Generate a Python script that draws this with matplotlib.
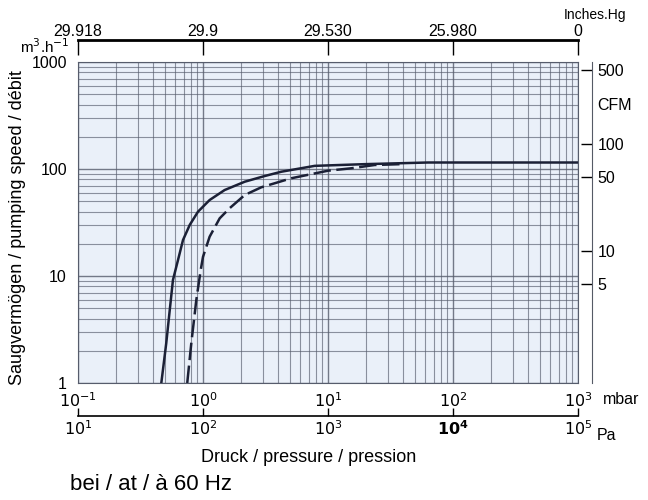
import numpy as np
import matplotlib.pyplot as plt
from matplotlib.ticker import FixedLocator, NullFormatter, NullLocator

plt.rcParams['font.family'] = ['Liberation Sans', 'DejaVu Sans']

# pumping speed curves, pressure in mbar, speed in m3/h
solid_p = [0.464, 0.508, 0.542, 0.575, 0.631, 0.692, 0.783, 0.912, 1.13, 1.49,
           2.16, 3.12, 4.23, 7.83, 19.7, 63, 1000]
solid_s = [1.0, 2.35, 4.81, 9.18, 14.1, 21.7, 30.0, 39.9, 51.3, 63.6,
           76.1, 86.0, 94.3, 107, 111, 115, 115]
dash_p = [0.748, 0.806, 0.884, 0.959, 1.0, 1.13, 1.36, 1.63, 2.16, 2.93,
          5.08, 10, 15.4, 23.6, 38.4]
dash_s = [1.0, 2.35, 5.97, 11.4, 15.1, 23.3, 34.6, 42.9, 57.2, 67.5,
          81.9, 96.4, 101.6, 109, 111]

# axis labelling
mbar_ticks = [0.1, 1, 10, 100, 1000]
mbar_labels = ['$10^{-1}$', '$10^{0}$', '$10^{1}$', '$10^{2}$', '$10^{3}$']
pa_ticks = [10, 100, 1000, 10000, 100000]
pa_labels = ['$10^{1}$', '$10^{2}$', '$10^{3}$', r'$\mathbf{10^{4}}$', '$10^{5}$']
inhg_labels = ['29.918', '29.9', '29.530', '25.980', '0']
cfm_ticks = [5, 10, 50, 100, 500]
speed_ticks = [1, 10, 100, 1000]

fs = 11.5

fig = plt.figure(figsize=(6.48, 5.0), dpi=100)
ax = fig.add_axes([78/648, 1 - 383/500, 500/648, 321/500])
ax.set_facecolor('#eaf0f9')
ax.set_xscale('log')
ax.set_yscale('log')
ax.set_xlim(0.1, 1000)
ax.set_ylim(1, 1000)

# log paper grid
grid_col = '#565c6c'
ax.xaxis.set_minor_locator(FixedLocator([m * 10.0**e for e in range(-1, 3) for m in range(2, 10)]))
ax.yaxis.set_minor_locator(FixedLocator([m * 10.0**e for e in range(0, 3) for m in range(2, 10)]))
ax.xaxis.set_minor_formatter(NullFormatter())
ax.yaxis.set_minor_formatter(NullFormatter())
ax.grid(which='major', color=grid_col, lw=1.0, alpha=0.8)
ax.grid(which='minor', color=grid_col, lw=0.8, alpha=0.65)
for s in ax.spines.values():
    s.set_color(grid_col)
    s.set_linewidth(0.8)

ax.plot(solid_p, solid_s, color='#1b2036', lw=1.8, solid_joinstyle='round')
ax.plot(dash_p, dash_s, color='#1b2036', lw=1.8, ls=(0, (7, 2.2)))

ax.set_xticks(mbar_ticks)
ax.set_xticklabels(mbar_labels, fontsize=fs)
ax.set_yticks(speed_ticks)
ax.set_yticklabels([str(v) for v in speed_ticks], fontsize=fs)
ax.tick_params(which='both', length=0, pad=6)
ax.tick_params(axis='y', pad=8)

# Pa axis below
pa_ax = ax.secondary_xaxis(-0.103, functions=(lambda x: x * 100, lambda x: x / 100))
pa_ax.set_xticks(pa_ticks)
pa_ax.set_xticklabels(pa_labels, fontsize=fs)
pa_ax.xaxis.set_minor_locator(NullLocator())
pa_ax.tick_params(direction='in', length=6, width=1, pad=2)
pa_ax.spines['bottom'].set_linewidth(1.2)

# inches Hg axis on top
hg_ax = ax.secondary_xaxis(1.068)
hg_ax.set_xticks(mbar_ticks)
hg_ax.set_xticklabels(inhg_labels, fontsize=fs)
hg_ax.xaxis.set_minor_locator(NullLocator())
hg_ax.tick_params(direction='in', length=11, width=1, pad=1)
hg_ax.spines['top'].set_linewidth(2)

# CFM axis on the right
cfm_ax = ax.secondary_yaxis(1.028, functions=(lambda x: x * 0.5886, lambda x: x / 0.5886))
cfm_ax.set_yticks(cfm_ticks)
cfm_ax.set_yticklabels([str(v) for v in cfm_ticks], fontsize=fs)
cfm_ax.yaxis.set_minor_locator(NullLocator())
cfm_ax.tick_params(direction='in', length=8, width=1, pad=4)
cfm_ax.spines['right'].set_color('#555a66')

fig.text(597/648, 1 - 105/500, 'CFM', fontsize=fs, va='center')
fig.text(603/648, 1 - 399/500, 'mbar', fontsize=fs, va='center')
fig.text(597/648, 1 - 435/500, 'Pa', fontsize=fs, va='center')
fig.text(626/648, 1 - 15/500, 'Inches.Hg', fontsize=10, ha='right', va='center')
fig.text(70/648, 1 - 47/500, 'm$^3$.h$^{-1}$', fontsize=11, ha='right', va='center')
fig.text(18/648, 1 - 228/500, 'Saugvermögen / pumping speed / débit', fontsize=13,
         rotation=90, ha='center', va='center')
fig.text(309/648, 1 - 457/500, 'Druck / pressure / pression', fontsize=13,
         ha='center', va='center')
fig.text(70/648, 1 - 484/500, 'bei / at / à 60 Hz', fontsize=16, va='center')

fig.savefig('out.png', dpi=100)
